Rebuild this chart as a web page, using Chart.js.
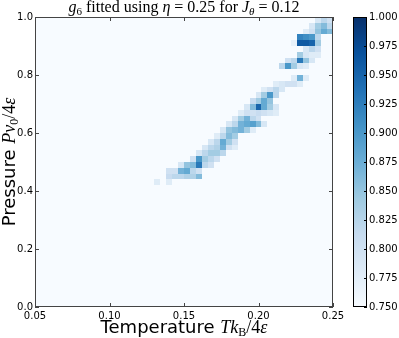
<!DOCTYPE html>
<html>
<head>
<meta charset="utf-8">
<script src="https://cdn.jsdelivr.net/npm/chart.js@4.4.1/dist/chart.umd.min.js"></script>
<style>
  body { margin: 0; background: #fff; }
</style>
</head>
<body>
<canvas id="heat" width="399" height="338"></canvas>
<script>
// one row of bins per pressure value, bins are 0.004 wide in T and 0.02 tall in P
const T_BIN = 0.004;
const P_BIN = 0.02;
const pressureRows = [0.43, 0.45, 0.47, 0.49, 0.51, 0.53, 0.55, 0.57, 0.59, 0.61, 0.63, 0.65, 0.67, 0.69,
                      0.71, 0.73, 0.75, 0.77, 0.79, 0.83, 0.85, 0.87, 0.89, 0.91, 0.93, 0.95, 0.97, 0.99];
const firstTemp = [0.132, 0.140, 0.140, 0.148, 0.156, 0.160, 0.164, 0.168, 0.172, 0.176, 0.180, 0.184, 0.188, 0.192,
                   0.196, 0.200, 0.204, 0.212, 0.224, 0.216, 0.220, 0.228, 0.232, 0.224, 0.228, 0.232, 0.236, 0.240];
const g6Rows = [
  [0.78, null, 0.78],
  [0.81, 0.82, 0.82, 0.83, 0.83, 0.86],
  [0.80, 0.80, 0.87, 0.88, 0.82, 0.80],
  [0.79, 0.85, 0.86, 0.93, 0.82, 0.80],
  [0.80, 0.90, 0.84, 0.82, 0.80],
  [0.79, 0.82, 0.84, 0.84, 0.82],
  [0.79, 0.82, 0.83, 0.87, 0.80, 0.78],
  [0.79, 0.82, 0.88, 0.84, 0.80],
  [0.78, 0.82, 0.86, 0.84],
  [0.79, 0.85, 0.86, 0.87, 0.84, 0.78],
  [0.79, 0.82, 0.87, 0.88, 0.89, 0.86, 0.79],
  [0.79, 0.84, 0.87, 0.82, 0.80],
  [0.78, 0.80, 0.80, 0.81, 0.80, 0.79, 0.78],
  [0.79, 0.86, 0.95, 0.88, 0.84, 0.79],
  [0.81, 0.84, 0.88, 0.85],
  [0.79, 0.84, 0.90, 0.82],
  [0.78, 0.80, 0.82, 0.79],
  [0.78, 0.79, 0.80, 0.80, 0.78],
  [0.78, 0.87, 0.78],
  [0.82, 0.90, 0.84, 0.79, 0.78],
  [0.80, 0.82, 0.93, 0.85, 0.79],
  [0.84, 0.79, 0.78, 0.78],
  [0.79, 0.82, 0.80],
  [0.77, 0.96, 0.96, 0.95, 0.84],
  [0.92, 0.91, 0.90, 0.82],
  [0.78, 0.80, 0.85, 0.88, 0.86],
  [0.79, 0.84, 0.86, 0.82],
  [0.79, 0.82, 0.80]
];
const CB_MIN = 0.75, CB_MAX = 1.0;

// matplotlib "Blues"
const BLUES = ["#f7fbff", "#deebf7", "#c6dbef", "#9ecae1", "#6baed6", "#4292c6", "#2171b5", "#08519c", "#08306b"];

function hexRgb(h) { return [parseInt(h.substr(1, 2), 16), parseInt(h.substr(3, 2), 16), parseInt(h.substr(5, 2), 16)]; }
function blues(v) {
  let f = (v - CB_MIN) / (CB_MAX - CB_MIN);
  f = Math.max(0, Math.min(1, f)) * (BLUES.length - 1);
  const i = Math.min(Math.floor(f), BLUES.length - 2);
  const a = hexRgb(BLUES[i]), b = hexRgb(BLUES[i + 1]), t = f - i;
  return "rgb(" + a.map((c, k) => Math.round(c + (b[k] - c) * t)).join(",") + ")";
}

var cells = [];
pressureRows.forEach(function (p, r) {
  g6Rows[r].forEach(function (v, k) {
    if (v !== null) cells.push({x: firstTemp[r] + k * T_BIN, y: p, v: v});
  });
});

const SERIF = "'Liberation Serif', 'DejaVu Serif', serif";
const SANS = "'DejaVu Sans', sans-serif";

// draw a line of mixed fonts centred on cx
function drawRich(ctx, parts, cx, base) {
  let w = 0;
  parts.forEach(function (p) { ctx.font = p.f; w += ctx.measureText(p.t).width; });
  let x = cx - w / 2;
  ctx.textAlign = "left";
  ctx.textBaseline = "alphabetic";
  parts.forEach(function (p) {
    ctx.font = p.f;
    ctx.fillText(p.t, x, base + (p.dy || 0));
    x += ctx.measureText(p.t).width;
  });
}

const heatPlugin = {
  id: "heat",
  beforeDatasetsDraw(chart) {
    const ctx = chart.ctx, a = chart.chartArea;
    const xs = chart.scales.x, ys = chart.scales.y;
    ctx.save();
    ctx.fillStyle = BLUES[0];
    ctx.fillRect(a.left, a.top, a.right - a.left, a.bottom - a.top);
    chart.data.datasets[0].data.forEach(function (c) {
      const x0 = Math.round(xs.getPixelForValue(c.x - T_BIN / 2));
      const x1 = Math.round(xs.getPixelForValue(c.x + T_BIN / 2));
      const y0 = Math.round(ys.getPixelForValue(c.y + P_BIN / 2));
      const y1 = Math.round(ys.getPixelForValue(c.y - P_BIN / 2));
      ctx.fillStyle = blues(c.v);
      ctx.fillRect(x0, y0, x1 - x0, y1 - y0);
    });
    ctx.restore();
  },
  afterDraw(chart) {
    const ctx = chart.ctx, a = chart.chartArea;
    const xs = chart.scales.x, ys = chart.scales.y, cb = chart.scales.cb;
    ctx.save();
    // frame + inward ticks
    ctx.strokeStyle = "#444";
    ctx.lineWidth = 1;
    ctx.strokeRect(a.left + 0.5, a.top + 0.5, a.right - a.left - 1, a.bottom - a.top - 1);
    ctx.beginPath();
    xs.ticks.forEach(function (t) {
      const px = Math.round(xs.getPixelForValue(t.value)) + 0.5;
      ctx.moveTo(px, a.bottom); ctx.lineTo(px, a.bottom - 4);
      ctx.moveTo(px, a.top); ctx.lineTo(px, a.top + 4);
    });
    ys.ticks.forEach(function (t) {
      const py = Math.round(ys.getPixelForValue(t.value)) + 0.5;
      ctx.moveTo(a.left, py); ctx.lineTo(a.left + 4, py);
      ctx.moveTo(a.right, py); ctx.lineTo(a.right - 4, py);
    });
    ctx.stroke();

    // colorbar
    const cx0 = a.right + 20, cw = 14;
    const top = cb.getPixelForValue(CB_MAX), bot = cb.getPixelForValue(CB_MIN);
    const g = ctx.createLinearGradient(0, bot, 0, top);
    BLUES.forEach(function (c, i) { g.addColorStop(i / (BLUES.length - 1), c); });
    ctx.fillStyle = g;
    ctx.fillRect(cx0, top, cw, bot - top);
    ctx.strokeStyle = "#000";
    ctx.strokeRect(cx0 + 0.5, top + 0.5, cw - 1, bot - top - 1);
    ctx.beginPath();
    cb.ticks.forEach(function (t) {
      const py = Math.round(cb.getPixelForValue(t.value)) + 0.5;
      ctx.moveTo(cx0 + cw, py); ctx.lineTo(cx0 + cw - 3, py);
    });
    ctx.stroke();

    // titles
    ctx.fillStyle = "#000";
    drawRich(ctx, [
      {t: "g", f: "italic 16px " + SERIF},
      {t: "6", f: "11px " + SERIF, dy: 3},
      {t: " fitted using ", f: "16px " + SERIF},
      {t: "\u03b7", f: "italic 16px " + SERIF},
      {t: " = 0.25 for ", f: "16px " + SERIF},
      {t: "J", f: "italic 16px " + SERIF},
      {t: "\u03b8", f: "italic 11px " + SERIF, dy: 3},
      {t: " = 0.12", f: "16px " + SERIF}
    ], (a.left + a.right) / 2, 12);
    drawRich(ctx, [
      {t: "Temperature ", f: "18px " + SANS},
      {t: "Tk", f: "italic 18px " + SERIF},
      {t: "B", f: "12px " + SERIF, dy: 3},
      {t: "/4", f: "18px " + SERIF},
      {t: "\u03b5", f: "italic 18px " + SERIF}
    ], (a.left + a.right) / 2, 333);
    ctx.translate(15, (a.top + a.bottom) / 2);
    ctx.rotate(-Math.PI / 2);
    drawRich(ctx, [
      {t: "Pressure ", f: "18px " + SANS},
      {t: "Pv", f: "italic 18px " + SERIF},
      {t: "0", f: "12px " + SERIF, dy: 3},
      {t: "/4", f: "18px " + SERIF},
      {t: "\u03b5", f: "italic 18px " + SERIF}
    ], 0, 0);
    ctx.restore();
  }
};

const tickFont = {family: "DejaVu Sans", size: 10};
new Chart(document.getElementById("heat").getContext("2d"), {
  type: "scatter",
  data: {datasets: [{data: cells, pointRadius: 0, pointHoverRadius: 0}]},
  options: {
    responsive: false,
    animation: false,
    layout: {padding: {top: 17, left: 0, right: 0, bottom: 0}},
    plugins: {legend: {display: false}, tooltip: {enabled: false}, title: {display: false}},
    scales: {
      x: {
        type: "linear", min: 0.05, max: 0.25,
        ticks: {stepSize: 0.05, callback: v => v.toFixed(2), font: tickFont, color: "#000", padding: 3, maxRotation: 0, autoSkip: false},
        grid: {display: false, drawTicks: false}, border: {display: false},
        afterFit: s => { s.height = 31; }
      },
      y: {
        type: "linear", min: 0, max: 1,
        ticks: {stepSize: 0.2, callback: v => v.toFixed(1), font: tickFont, color: "#000", padding: 2},
        grid: {display: false, drawTicks: false}, border: {display: false},
        afterFit: s => { s.width = 35; }
      },
      cb: {
        type: "linear", position: "right", min: CB_MIN, max: CB_MAX,
        ticks: {stepSize: 0.025, callback: v => v.toFixed(3), font: tickFont, color: "#000", padding: 2},
        // tickLength only pushes the labels past the colour bar, the marks themselves are not drawn
        grid: {display: false, drawTicks: true, tickLength: 34}, border: {display: false},
        afterFit: s => { s.width = 66; }
      }
    }
  },
  plugins: [heatPlugin]
});
</script>
</body>
</html>
